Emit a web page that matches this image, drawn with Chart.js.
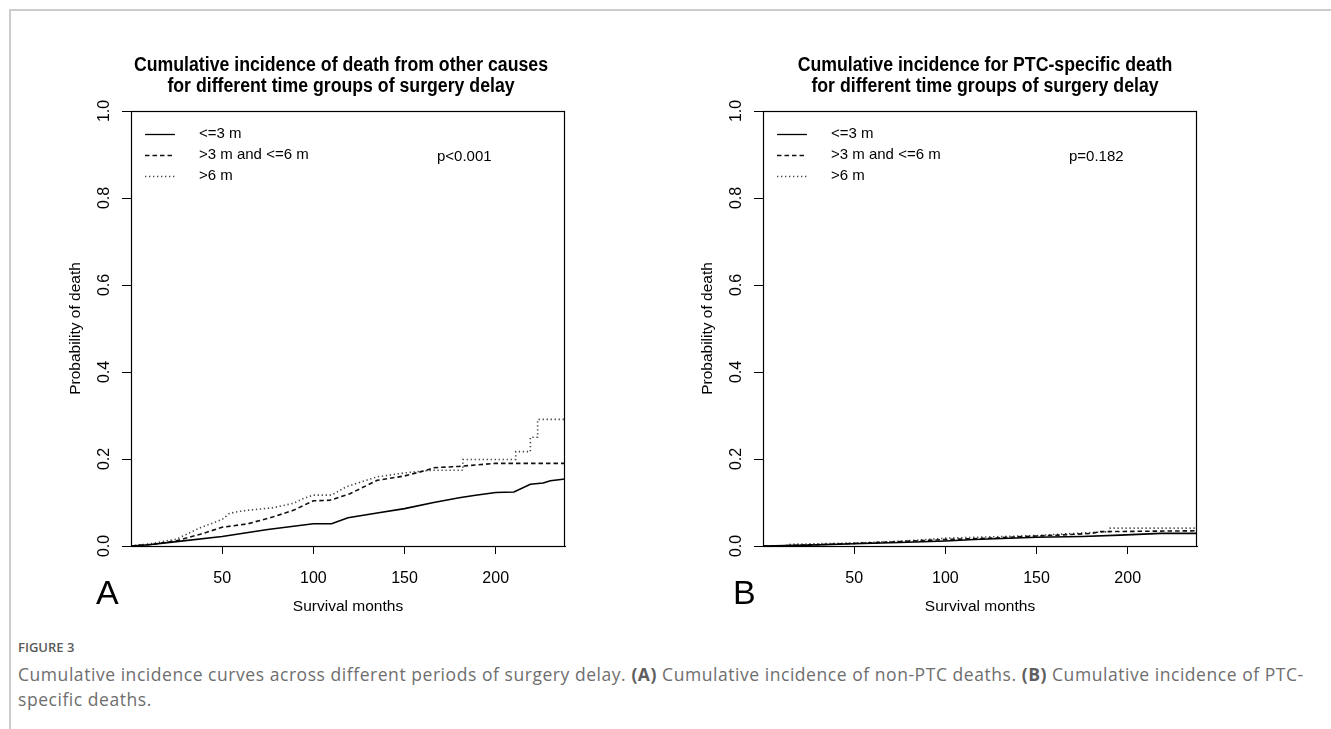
<!DOCTYPE html>
<html>
<head>
<meta charset="utf-8">
<script src="https://cdn.jsdelivr.net/npm/chart.js@4.4.0/dist/chart.umd.min.js"></script>
<style>
html, body { margin: 0; padding: 0; background: #fff; width: 1331px; height: 729px; overflow: hidden; }
#frame { position: absolute; left: 9px; top: 9px; width: 1340px; height: 740px; border-left: 2px solid #cccccc; border-top: 2px solid #cccccc; }
canvas { position: absolute; top: 0; }
#cA { left: 0; }
#cB { left: 632px; }
.cap { position: absolute; left: 18px; font-family: "Open Sans", sans-serif; color: #6e6e6e; white-space: nowrap; }
#fig { top: 638px; font-size: 13px; line-height: 18px; font-weight: 600; color: #5a5a5a; }
#l1 { top: 663px; font-size: 17.5px; line-height: 22px; letter-spacing: 0.55px; }
#l2 { top: 688px; font-size: 17.5px; line-height: 22px; letter-spacing: 0.55px; }
.cap b { font-weight: 700; color: #5e5e5e; }
</style>
</head>
<body>
<div id="frame"></div>
<canvas id="cA" width="630" height="630"></canvas>
<canvas id="cB" width="630" height="630"></canvas>
<div class="cap" id="fig">FIGURE 3</div>
<div class="cap" id="l1">Cumulative incidence curves across different periods of surgery delay. <b>(A)</b> Cumulative incidence of non-PTC deaths. <b>(B)</b> Cumulative incidence of PTC-</div>
<div class="cap" id="l2">specific deaths.</div>
<script>
// tick values
var xTicks = [50, 100, 150, 200];
var yTicks = [0, 0.2, 0.4, 0.6, 0.8, 1.0];
var groups = ['<=3 m', '>3 m and <=6 m', '>6 m'];

// panel A: death from other causes
var tA1 = [0, 10, 25, 50, 75, 100, 110, 119, 135, 150, 166, 180, 188, 200, 210, 219, 226, 230, 238];
var pA1 = [0, 0.003, 0.01, 0.022, 0.038, 0.051, 0.051, 0.065, 0.076, 0.086, 0.100, 0.111, 0.116, 0.123, 0.124, 0.142, 0.145, 0.150, 0.154];
var tA2 = [0, 12, 25, 38, 50, 64, 78, 89, 100, 109, 120, 135, 150, 162, 166, 180, 200, 238];
var pA2 = [0, 0.004, 0.012, 0.027, 0.043, 0.051, 0.067, 0.082, 0.104, 0.105, 0.12, 0.151, 0.161, 0.174, 0.18, 0.183, 0.19, 0.19];
var tA3 = [0, 12, 25, 38, 50, 54, 60, 66, 78, 89, 95, 100, 110, 118, 126, 135, 150, 162, 165, 182, 182, 211, 211, 219, 219, 223, 223, 238];
var pA3 = [0, 0.006, 0.016, 0.042, 0.061, 0.075, 0.080, 0.083, 0.088, 0.098, 0.11, 0.117, 0.117, 0.136, 0.147, 0.159, 0.168, 0.173, 0.174, 0.174, 0.199, 0.199, 0.217, 0.217, 0.25, 0.25, 0.291, 0.291];

// panel B: PTC-specific death
var tB1 = [0, 25, 50, 75, 100, 116, 150, 175, 196, 218, 238];
var pB1 = [0, 0.002, 0.005, 0.008, 0.0115, 0.015, 0.02, 0.022, 0.025, 0.029, 0.029];
var tB2 = [0, 15, 50, 75, 100, 125, 150, 162, 180, 185, 238];
var pB2 = [0, 0.001, 0.006, 0.01, 0.015, 0.018, 0.023, 0.025, 0.029, 0.033, 0.035];
var tB3 = [0, 15, 15, 50, 75, 100, 125, 150, 162, 190, 190, 238];
var pB3 = [0, 0, 0.004, 0.007, 0.011, 0.018, 0.021, 0.024, 0.027, 0.033, 0.041, 0.041];

var fam = '"Liberation Sans", Arial, sans-serif';
var dashes = [[], [4.5, 3], [1.3, 2.7]];
var colors = ['#000', '#111', '#444'];

function pts(t, p) {
    return t.map(function(v, i){ return {x: v, y: p[i]}; });
}

// box, titles, legend, p value, panel letter
var decor = {
    id: 'decor',
    afterDraw: function(chart){
        var o = chart.options.plugins.decor;
        var ctx = chart.ctx, a = chart.chartArea;
        ctx.save();
        ctx.strokeStyle = '#000';
        ctx.lineWidth = 1.2;
        ctx.strokeRect(a.left + 0.5, a.top + 0.5, a.right - a.left - 1, a.bottom - a.top);
        ctx.fillStyle = '#000';
        ctx.textAlign = 'center';
        ctx.textBaseline = 'alphabetic';
        // title is a little taller than wide in the figure
        var cx = (a.left + a.right) / 2 + o.shift;
        ctx.save();
        ctx.translate(cx, 0);
        ctx.scale(0.885, 1);
        ctx.font = 'bold 20px ' + fam;
        ctx.fillText(o.title[0], 0, 71);
        ctx.fillText(o.title[1], 0, 92);
        ctx.restore();
        ctx.font = '15px ' + fam;
        ctx.textAlign = 'left';
        ctx.textBaseline = 'middle';
        var rows = [134, 155, 176];
        groups.forEach(function(g, i){
            ctx.save();
            ctx.strokeStyle = colors[i];
            ctx.lineWidth = 1.3;
            ctx.setLineDash(dashes[i]);
            ctx.beginPath();
            ctx.moveTo(145, rows[i] + 0.5);
            ctx.lineTo(175, rows[i] + 0.5);
            ctx.stroke();
            ctx.restore();
            ctx.fillText(g, 199, rows[i]);
        });
        ctx.fillText(o.p, 437, 157);
        ctx.font = '34px ' + fam;
        ctx.textBaseline = 'alphabetic';
        ctx.fillText(o.letter, o.letterX, 604);
        ctx.restore();
    }
};

function makePanel(id, series, title, pText, letter, shift, letterX) {
    var ds = series.map(function(s, i){
        return {
            label: groups[i],
            data: s,
            borderColor: colors[i],
            borderWidth: 1.6,
            borderDash: dashes[i],
            pointRadius: 0,
            tension: 0,
            fill: false
        };
    });
    return new Chart(document.getElementById(id), {
        type: 'line',
        data: {datasets: ds},
        plugins: [decor],
        options: {
            responsive: false,
            animation: false,
            devicePixelRatio: 1,
            layout: {padding: {left: 55, top: 111, right: 65, bottom: 4}},
            plugins: {
                legend: {display: false},
                tooltip: {enabled: false},
                decor: {title: title, p: pText, letter: letter, shift: shift, letterX: letterX}
            },
            scales: {
                x: {
                    type: 'linear',
                    min: 0,
                    max: 238,
                    afterBuildTicks: function(s){ s.ticks = xTicks.map(function(v){ return {value: v}; }); },
                    afterFit: function(s){ s.height = 80; },
                    grid: {drawOnChartArea: false, drawTicks: true, tickLength: 8, color: '#000'},
                    border: {display: true, color: '#000', width: 1},
                    ticks: {font: {family: fam, size: 16}, color: '#000', padding: 15, maxRotation: 0, autoSkip: false},
                    title: {display: true, text: 'Survival months', color: '#000', font: {family: fam, size: 15.5}, padding: {top: 0, bottom: 10}}
                },
                y: {
                    type: 'linear',
                    min: 0,
                    max: 1,
                    afterBuildTicks: function(s){ s.ticks = yTicks.map(function(v){ return {value: v}; }); },
                    afterFit: function(s){ s.width = 76; },
                    grid: {drawOnChartArea: false, drawTicks: true, tickLength: 9, color: '#000'},
                    border: {display: true, color: '#000', width: 1},
                    ticks: {
                        font: {family: fam, size: 16}, color: '#000', padding: 6,
                        minRotation: 90, maxRotation: 90, crossAlign: 'center', autoSkip: false,
                        callback: function(v){ return v.toFixed(1); }
                    },
                    title: {display: true, text: 'Probability of death', color: '#000', font: {family: fam, size: 15.5}, padding: {top: 11, bottom: 0}}
                }
            }
        }
    });
}

makePanel('cA', [pts(tA1, pA1), pts(tA2, pA2), pts(tA3, pA3)],
    ['Cumulative incidence of death from other causes', 'for different time groups of surgery delay'],
    'p<0.001', 'A', -7, 96);
makePanel('cB', [pts(tB1, pB1), pts(tB2, pB2), pts(tB3, pB3)],
    ['Cumulative incidence for PTC-specific death', 'for different time groups of surgery delay'],
    'p=0.182', 'B', 5, 101);
</script>
</body>
</html>
